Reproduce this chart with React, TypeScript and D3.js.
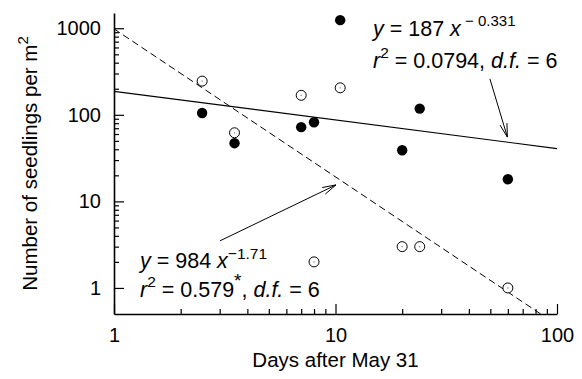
import React, { useEffect, useRef } from 'react';
import * as d3 from 'd3';

// Days after May 31 at which seedlings were counted
const days = [2.5, 3.5, 7, 8, 10.5, 20, 24, 60];
// filled circles
const filledSeedlings = [105, 47, 72, 82, 1240, 39, 118, 18];
// open circles
const openSeedlings = [245, 62, 168, 2, 205, 3, 3, 1];

const xMajorTicks = [1, 10, 100];
const xMinorTicks = [2, 3, 4, 5, 6, 7, 8, 9, 20, 30, 40, 50, 60, 70, 80, 90];
const yMajorTicks = [1, 10, 100, 1000];
const yMinorTicks = [2, 3, 4, 5, 6, 7, 8, 9, 20, 30, 40, 50, 60, 70, 80, 90, 200, 300, 400, 500, 600, 700, 800, 900];

// power-law fits y = a * x^b (solid: filled, dashed: open)
const solidFit = [187, -0.331];
const dashedFit = [984, -1.71];

const WIDTH = 582;
const HEIGHT = 379;
const FONT = "'Liberation Sans', Arial, Helvetica, sans-serif";

const App: React.FC = () => {
  const svgRef = useRef<SVGSVGElement>(null);

  useEffect(() => {
    if (!svgRef.current) return;
    const svg = d3.select(svgRef.current);
    svg.selectAll('*').remove();

    const marginLeft = 114;
    const marginRight = 25;
    const marginTop = 13;
    const marginBottom = 65;

    const x = d3.scaleLog().domain([1, 100]).range([marginLeft, WIDTH - marginRight]);
    const y = d3.scaleLog().domain([0.5, 1500]).range([HEIGHT - marginBottom, marginTop]);

    const plotBottom = HEIGHT - marginBottom;

    svg.append('defs').append('clipPath').attr('id', 'plot-clip')
      .append('rect')
      .attr('x', marginLeft).attr('y', marginTop)
      .attr('width', WIDTH - marginLeft - marginRight)
      .attr('height', plotBottom - marginTop);

    // --- AXES ---
    const styleAxis = (g: d3.Selection<SVGGElement, unknown, null, undefined>) => {
      g.attr('font-size', 20).attr('font-family', FONT).attr('color', '#000');
      g.selectAll('.tick line').attr('stroke-width', 1.2);
    };

    svg.append('g')
      .attr('transform', `translate(${marginLeft},0)`)
      .call(d3.axisLeft(y).tickValues(yMinorTicks).tickSize(-5).tickSizeOuter(0).tickFormat(() => ''))
      .call(g => g.select('.domain').remove())
      .call(styleAxis);

    svg.append('g')
      .attr('transform', `translate(0,${plotBottom})`)
      .call(d3.axisBottom(x).tickValues(xMinorTicks).tickSize(-5).tickSizeOuter(0).tickFormat(() => ''))
      .call(g => g.select('.domain').remove())
      .call(styleAxis);

    svg.append('g')
      .attr('transform', `translate(${marginLeft},0)`)
      .call(d3.axisLeft(y).tickValues(yMajorTicks).tickSize(-10).tickSizeOuter(0).tickPadding(13).tickFormat(d3.format('d')))
      .call(styleAxis)
      .call(g => g.select('.domain').attr('stroke-width', 1.6));

    svg.append('g')
      .attr('transform', `translate(0,${plotBottom})`)
      .call(d3.axisBottom(x).tickValues(xMajorTicks).tickSize(-10).tickSizeOuter(0).tickPadding(14).tickFormat(d3.format('d')))
      .call(styleAxis)
      .call(g => g.select('.domain').attr('stroke-width', 1.6));

    // axis titles
    svg.append('text')
      .attr('x', (x.range()[0] + x.range()[1]) / 2)
      .attr('y', 367)
      .attr('text-anchor', 'middle')
      .attr('font-family', FONT)
      .attr('font-size', 20.5)
      .text('Days after May 31');

    const yTitle = svg.append('text')
      .attr('transform', `translate(37,${(marginTop + plotBottom) / 2}) rotate(-90)`)
      .attr('text-anchor', 'middle')
      .attr('font-family', FONT)
      .attr('font-size', 20.5);
    yTitle.append('tspan').text('Number of seedlings per m');
    yTitle.append('tspan').attr('dy', -9).attr('font-size', 15).text('2');

    // --- FIT LINES ---
    const drawFit = (fit: number[], dash: string | null) => {
      const pts: [number, number][] = x.domain().map(v => [x(v), y(fit[0] * Math.pow(v, fit[1]))]);
      svg.append('path')
        .attr('clip-path', 'url(#plot-clip)')
        .attr('d', d3.line()(pts))
        .attr('fill', 'none')
        .attr('stroke', '#000')
        .attr('stroke-width', dash ? 1 : 1.2)
        .attr('stroke-dasharray', dash);
    };
    drawFit(solidFit, null);
    drawFit(dashedFit, '7,4');

    // --- POINTS ---
    const openPts = days.map((d, i) => [d, openSeedlings[i]]);
    const filledPts = days.map((d, i) => [d, filledSeedlings[i]]);

    svg.append('g').selectAll('circle')
      .data(openPts)
      .join('circle')
      .attr('cx', d => x(d[0]))
      .attr('cy', d => y(d[1]))
      .attr('r', 5)
      .attr('fill', '#fff')
      .attr('stroke', '#000')
      .attr('stroke-width', 1);

    // tiny centre dots in the open circles
    svg.append('g').selectAll('circle')
      .data(openPts)
      .join('circle')
      .attr('cx', d => x(d[0]))
      .attr('cy', d => y(d[1]))
      .attr('r', 0.6)
      .attr('fill', '#555');

    svg.append('g').selectAll('circle')
      .data(filledPts)
      .join('circle')
      .attr('cx', d => x(d[0]))
      .attr('cy', d => y(d[1]))
      .attr('r', 5.2)
      .attr('fill', '#000');

    // --- ANNOTATION ARROWS (open heads) ---
    const arrow = (from: [number, number], to: [number, number]) => {
      const x0 = x(from[0]), y0 = y(from[1]);
      const x1 = x(to[0]), y1 = y(to[1]);
      const ang = Math.atan2(y1 - y0, x1 - x0);
      const len = 14;
      const spread = 0.26;
      const a1 = [x1 - len * Math.cos(ang - spread), y1 - len * Math.sin(ang - spread)];
      const a2 = [x1 - len * Math.cos(ang + spread), y1 - len * Math.sin(ang + spread)];
      svg.append('path')
        .attr('d', `M${x0},${y0}L${x1},${y1}M${a1[0]},${a1[1]}L${x1},${y1}L${a2[0]},${a2[1]}`)
        .attr('fill', 'none')
        .attr('stroke', '#000')
        .attr('stroke-width', 1);
    };
    arrow([49.8, 260], [59.7, 55.3]);
    arrow([3.01, 3.5], [10.05, 15.5]);

    // --- EQUATIONS ---
    const eq = (xPos: number, yPos: number) =>
      svg.append('text')
        .attr('x', xPos).attr('y', yPos)
        .attr('font-family', FONT)
        .attr('font-size', 21.5)
        .attr('xml:space', 'preserve');

    const e1 = eq(373, 36);
    e1.append('tspan').attr('font-style', 'italic').text('y');
    e1.append('tspan').text(' = 187 ');
    e1.append('tspan').attr('font-style', 'italic').text('x');
    e1.append('tspan').attr('dy', -10).attr('font-size', 15).text(' \u2212 0.331');

    const e2 = eq(373, 68);
    e2.append('tspan').attr('font-style', 'italic').text('r');
    e2.append('tspan').attr('dy', -10).attr('font-size', 15.5).text('2');
    e2.append('tspan').attr('dy', 10).text(' = 0.0794, ');
    e2.append('tspan').attr('font-style', 'italic').text('d.f.');
    e2.append('tspan').text(' = 6');

    const e3 = eq(140, 268);
    e3.append('tspan').attr('font-style', 'italic').text('y');
    e3.append('tspan').text(' = 984 ');
    e3.append('tspan').attr('font-style', 'italic').text('x');
    e3.append('tspan').attr('dy', -9).attr('font-size', 15.5).text('\u22121.71');

    const e4 = eq(140, 297);
    e4.append('tspan').attr('font-style', 'italic').text('r');
    e4.append('tspan').attr('dy', -10).attr('font-size', 15.5).text('2');
    e4.append('tspan').attr('dy', 10).text(' = 0.579');
    e4.append('tspan').attr('dy', -10).attr('font-size', 19).text('*');
    e4.append('tspan').attr('dy', 10).text(', ');
    e4.append('tspan').attr('font-style', 'italic').text('d.f.');
    e4.append('tspan').text(' = 6');
  }, []);

  return (
    <svg
      ref={svgRef}
      width={WIDTH}
      height={HEIGHT}
      style={{ position: 'absolute', left: 0, top: 0, background: '#fff' }}
    />
  );
};

export default App;
